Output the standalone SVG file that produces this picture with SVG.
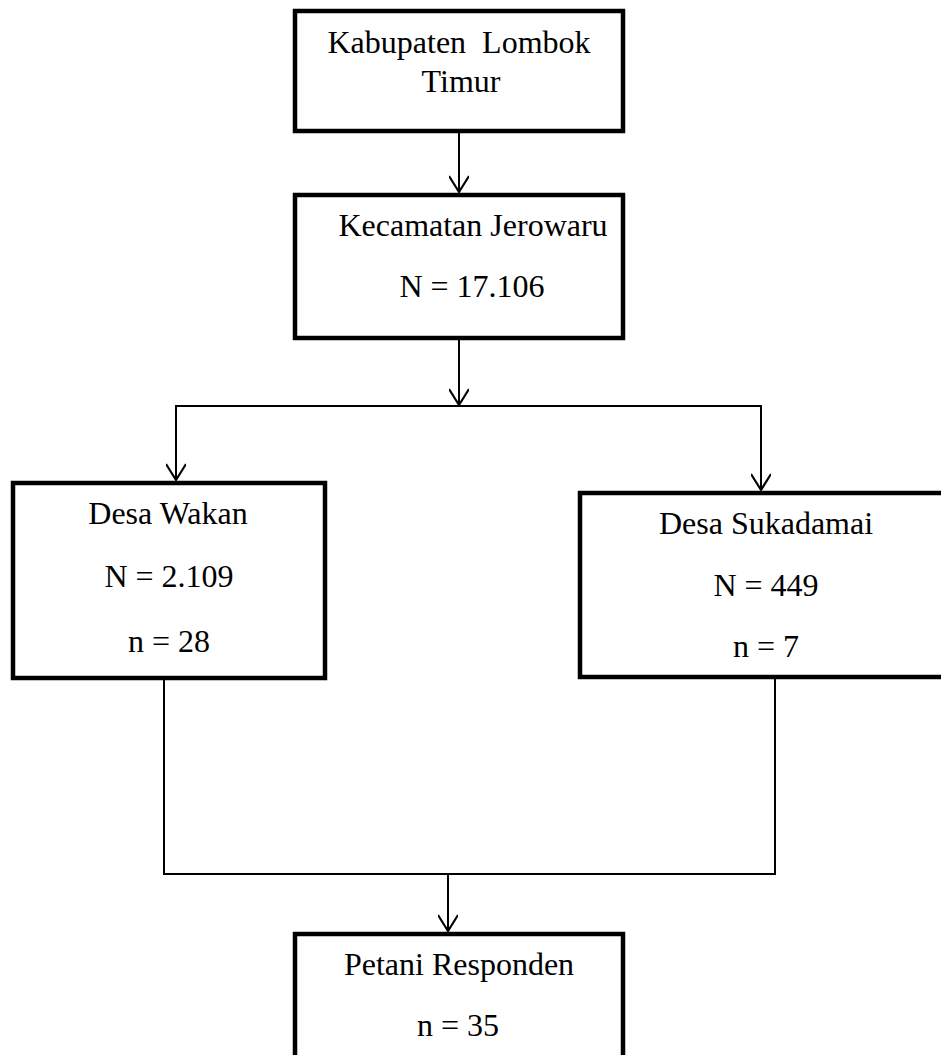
<svg xmlns="http://www.w3.org/2000/svg" width="941" height="1055" viewBox="0 0 941 1055">
<style>
.box{fill:#fff;stroke:#000;stroke-width:4.5}
.lbl{font-family:"Liberation Serif","Times New Roman",serif;font-size:32px;fill:#000;text-anchor:middle;white-space:pre}
.con{fill:none;stroke:#000;stroke-width:2}
</style>
<defs>
<marker id="arr" markerUnits="userSpaceOnUse" markerWidth="24" markerHeight="20" refX="20" refY="10" orient="auto" viewBox="0 0 24 20">
<path d="M4,0 L20,10 L4,20" fill="none" stroke="#000" stroke-width="2.2"/>
</marker>
</defs>
<rect width="941" height="1055" fill="#fff"/>
<g id="connectors">
<path class="con" d="M459,133 V192" marker-end="url(#arr)"/>
<path class="con" d="M459,340 V405" marker-end="url(#arr)"/>
<path class="con" d="M459,406 H176 V480" marker-end="url(#arr)"/>
<path class="con" d="M459,406 H761 V490" marker-end="url(#arr)"/>
<path class="con" d="M164,680 V874 H775 V679"/>
<path class="con" d="M448,874 V931" marker-end="url(#arr)"/>
</g>
<g id="kabupaten">
<rect class="box" x="295" y="11" width="328" height="120"/>
<text class="lbl" x="459" y="53" xml:space="preserve">Kabupaten  Lombok</text>
<text class="lbl" x="461" y="92">Timur</text>
</g>
<g id="kecamatan">
<rect class="box" x="295" y="195" width="328" height="143"/>
<text class="lbl" x="473" y="236">Kecamatan Jerowaru</text>
<text class="lbl" x="472" y="297">N = 17.106</text>
</g>
<g id="wakan">
<rect class="box" x="13" y="483" width="312" height="195"/>
<text class="lbl" x="168" y="524">Desa Wakan</text>
<text class="lbl" x="169" y="587">N = 2.109</text>
<text class="lbl" x="169" y="652">n = 28</text>
</g>
<g id="sukadamai">
<rect class="box" x="580" y="493" width="380" height="184"/>
<text class="lbl" x="766" y="534">Desa Sukadamai</text>
<text class="lbl" x="766" y="596">N = 449</text>
<text class="lbl" x="766" y="657">n = 7</text>
</g>
<g id="petani">
<rect class="box" x="295" y="934" width="328" height="140"/>
<text class="lbl" x="459" y="975">Petani Responden</text>
<text class="lbl" x="458" y="1036">n = 35</text>
</g>
</svg>
